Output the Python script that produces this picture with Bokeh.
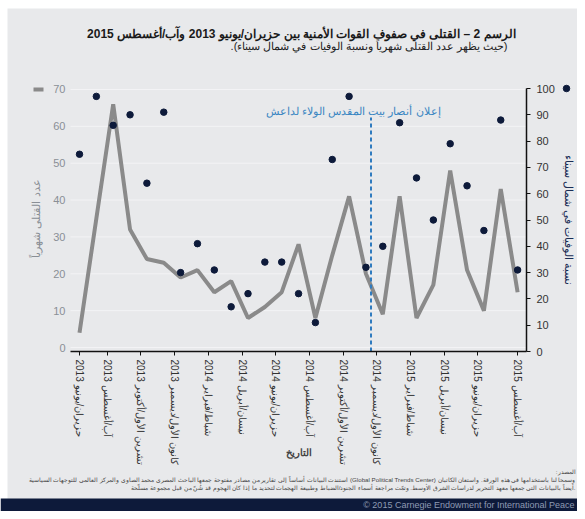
from bokeh.plotting import figure
from bokeh.models import Range1d, LinearAxis, FixedTicker
from bokeh.embed import file_html
from bokeh.resources import INLINE

# ---------------- data ----------------
months = ["حزيران/يونيو 2013", "تموز/يوليو 2013", "آب/أغسطس 2013", "أيلول/سبتمبر 2013",
          "تشرين الأول/أكتوبر 2013", "تشرين الثاني/نوفمبر 2013", "كانون الأول/ديسمبر 2013",
          "كانون الثاني/يناير 2014", "شباط/فبراير 2014", "آذار/مارس 2014", "نيسان/أبريل 2014",
          "أيار/مايو 2014", "حزيران/يونيو 2014", "تموز/يوليو 2014", "آب/أغسطس 2014",
          "أيلول/سبتمبر 2014", "تشرين الأول/أكتوبر 2014", "تشرين الثاني/نوفمبر 2014",
          "كانون الأول/ديسمبر 2014", "كانون الثاني/يناير 2015", "شباط/فبراير 2015",
          "آذار/مارس 2015", "نيسان/أبريل 2015", "أيار/مايو 2015", "حزيران/يونيو 2015",
          "تموز/يوليو 2015", "آب/أغسطس 2015"]
deaths = [4, 35, 66, 32, 24, 23, 19, 21, 15, 18, 8, 11, 15, 28, 8, 25, 41, 20, 9, 41, 8, 17, 48, 21, 10, 43, 15]
pct_sinai = [75, 97, 86, 90, 64, 91, 30, 41, 31, 17, 22, 34, 34, 22, 11, 73, 97, 32, 40, 87, 66, 50, 79, 63, 46, 88, 31]
left_ticks = [0, 10, 20, 30, 40, 50, 60, 70]
right_ticks = [0, 10, 20, 30, 40, 50, 60, 70, 80, 90, 100]
event_month = 17.3          # 10 Nov 2014
event_label = "إعلان أنصار بيت المقدس الولاء لداعش"
x_title = "التاريخ"

title_text = "الرسم 2 – القتلى في صفوف القوات الأمنية بين حزيران/يونيو 2013 وآب/أغسطس 2015"
subtitle_text = ".(حيث يظهر عدد القتلى شهرياً ونسبة الوفيات في شمال سيناء" + ")"
source_lines = [
    ":المصدر",
    "استندت البيانات أساساً إلى تقارير من مصادر مفتوحة جمعها الباحث المصري محمد الصاوي والمركز العالمي للتوجهات السياسية (Global Political Trends Center) وسمحا لنا باستخدامها في هذه الورقة. واستعان الكاتبان",
    "أيضاً بالبيانات التي جمعها معهد التحرير لدراسات الشرق الأوسط. وتمّت مراجعة أسماء الجنود/الضباط وطبيعة الهجمات لتحديد ما إذا كان الهجوم قد شُنّ من قبل مجموعة مسلّحة.",
]
copyright_text = "© 2015 Carnegie Endowment for International Peace"

# ---------------- layout helpers (picture pixel -> data units) ----------------
W, H = 577, 511
X_FIRST, X_STEP = 79.0, 16.85          # x of first month, pixels per month
L_ZERO, L_UNIT = 347.0, 3.686          # left axis: y of 0, pixels per unit
R_ZERO, R_UNIT = 351.0, 2.63           # right axis: y of 0, pixels per unit
LABEL_SHIFT = 6.0                      # interior month labels sit ~6px left of their month


def dx(px):
    return (px - X_FIRST) / X_STEP


def ly(py):
    return (L_ZERO - py) / L_UNIT


def ry(py):
    return (R_ZERO - py) / R_UNIT


FRAME_L, FRAME_R, FRAME_B = 70, 526, 351

BG = "#e8e9eb"
NAVY = "#0d1a3a"
GREY_LINE = "#8a8a8a"

xs = list(range(len(months)))
label_idx = xs[::2]
inner_idx = label_idx[1:-1]
end_idx = [label_idx[0], label_idx[-1]]

p = figure(width=W, height=H, output_backend="svg", toolbar_location=None,
           x_axis_type=None, y_axis_type=None, min_border=0,
           x_range=Range1d(dx(0), dx(W)), y_range=Range1d(ly(H), ly(0)),
           background_fill_color="#ffffff", border_fill_color="#ffffff", outline_line_color=None)
p.extra_y_ranges = {"pct": Range1d(ry(H), ry(0))}
p.extra_x_ranges = {"lab": Range1d(dx(0) + LABEL_SHIFT / X_STEP, dx(W) + LABEL_SHIFT / X_STEP)}

# panel background (white page edge at top/left as in the reference)
p.quad(left=[dx(7)], right=[dx(W)], bottom=[ly(H)], top=[ly(8)], fill_color=BG, line_color=None)

# grid lines (left axis ticks)
p.segment(x0=[dx(FRAME_L)] * len(left_ticks), y0=left_ticks,
          x1=[dx(FRAME_R)] * len(left_ticks), y1=left_ticks,
          line_color="#f3f3f5", line_width=1)

# left axis
ya = LinearAxis(ticker=FixedTicker(ticks=left_ticks), fixed_location=dx(FRAME_L), bounds=(0, 70))
ya.axis_line_color = None
ya.major_tick_line_color = None
ya.minor_tick_line_color = None
ya.major_tick_out = 0
ya.major_tick_in = 0
ya.major_label_standoff = 5
ya.major_label_text_color = "#8a8f96"
ya.major_label_text_font_size = "11px"
ya.axis_label = "عدد القتلى شهرياً"
ya.axis_label_text_color = "#8a8f96"
ya.axis_label_text_font_style = "normal"
ya.axis_label_text_font_size = "11px"
ya.axis_label_standoff = 8
p.add_layout(ya, "left")

# right axis
ra = LinearAxis(y_range_name="pct", ticker=FixedTicker(ticks=right_ticks),
                fixed_location=dx(FRAME_R), bounds=(0, 100),
                axis_label="نسبة الوفيات في شمال سيناء")
ra.axis_line_color = "#111111"
ra.axis_line_width = 1.5
ra.major_tick_line_color = "#111111"
ra.major_tick_out = 4
ra.major_tick_in = 0
ra.minor_tick_line_color = None
ra.major_label_standoff = 6
ra.major_label_text_color = "#333333"
ra.major_label_text_font_size = "11px"
ra.axis_label_text_color = "#1b2d55"
ra.axis_label_text_font_style = "normal"
ra.axis_label_text_font_size = "11px"
ra.axis_label_standoff = 5
p.add_layout(ra, "right")


def month_axis(ticks, range_name, draw_line):
    ax = LinearAxis(ticker=FixedTicker(ticks=ticks), fixed_location=ly(FRAME_B), x_range_name=range_name)
    ax.major_label_overrides = {i: months[i] for i in ticks}
    ax.major_label_orientation = "vertical"
    ax.major_label_text_font_size = "10px"
    ax.major_label_text_color = "#333333"
    ax.major_label_standoff = 4
    ax.axis_line_color = "#111111" if draw_line else None
    ax.axis_line_width = 1.5
    ax.major_tick_line_color = "#111111"
    ax.major_tick_out = 4
    ax.major_tick_in = 0
    ax.minor_tick_line_color = None
    p.add_layout(ax, "below")
    return ax


xa = month_axis(end_idx, "default", True)
xa.bounds = (dx(FRAME_L), dx(FRAME_R))
month_axis(inner_idx, "lab", False)

p.text(x=[dx((FRAME_L + FRAME_R) / 2)], y=[ly(452)], text=[x_title], text_align="center",
       text_baseline="middle", text_font_size="10px", text_font_style="bold", text_color="#444444")

# series
p.line(xs, deaths, line_color=GREY_LINE, line_width=4)
p.scatter(xs, pct_sinai, y_range_name="pct", size=6.5, fill_color=NAVY, line_color=NAVY)

# event marker
p.segment(x0=[event_month], y0=[ly(FRAME_B)], x1=[event_month], y1=[ly(117)],
          line_color="#2f7bbf", line_width=2, line_dash="4 3")
p.text(x=[dx(440)], y=[ly(110)], text=[event_label], text_align="right", text_baseline="middle",
       text_font_size="11px", text_color="#3a86c2")

# legend markers next to the axes
p.line([dx(33), dx(43)], [ly(89), ly(89)], line_color=GREY_LINE, line_width=4)
p.scatter([dx(566)], [ry(88)], y_range_name="pct", size=6.5, fill_color=NAVY, line_color=NAVY)

# titles
p.text(x=[dx(515)], y=[ly(33)], text=[title_text], text_align="right", text_baseline="middle",
       text_font_size="12px", text_font_style="bold", text_color="#1a1a1a")
p.text(x=[dx(507)], y=[ly(45)], text=[subtitle_text], text_align="right", text_baseline="middle",
       text_font_size="11px", text_color="#222222")

# source
for i, line in enumerate(source_lines):
    p.text(x=[dx(575)], y=[ly(471 + 8 * i)], text=[line], text_align="right", text_baseline="middle",
           text_font_size="6.2px", text_color="#444444")

# footer band
p.quad(left=[dx(0)], right=[dx(W)], bottom=[ly(H)], top=[ly(498)],
       fill_color=NAVY, line_color=None)
p.text(x=[dx(574)], y=[ly(504.5)], text=[copyright_text], text_align="right", text_baseline="middle",
       text_font_size="9px", text_color="#8f9bb3")

open("out.html", "w").write(file_html(p, INLINE))
